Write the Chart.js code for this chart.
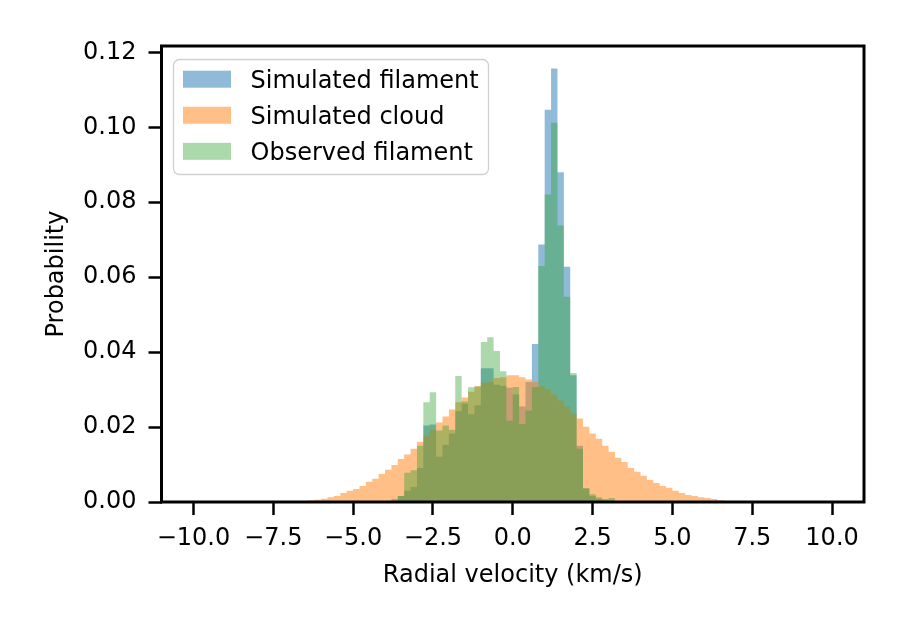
<!DOCTYPE html>
<html>
<head>
<meta charset="utf-8">
<script src="https://cdn.jsdelivr.net/npm/chart.js@4.4.1/dist/chart.umd.min.js"></script>
<style>
  html, body { margin: 0; padding: 0; background: #fff; }
  canvas { display: block; }
</style>
</head>
<body>
<canvas id="hist" width="907" height="633"></canvas>
<script>
// histogram bin edges (bin width 0.2 km/s), one more edge than values
const bin_edges = [
  -6.6, -6.4, -6.2, -6.0, -5.8, -5.6, -5.4, -5.2, -5.0, -4.8,
  -4.6, -4.4, -4.2, -4.0, -3.8, -3.6, -3.4, -3.2, -3.0, -2.8,
  -2.6, -2.4, -2.2, -2.0, -1.8, -1.6, -1.4, -1.2, -1.0, -0.8,
  -0.6, -0.4, -0.2, 0.0, 0.2, 0.4, 0.6, 0.8, 1.0, 1.2,
  1.4, 1.6, 1.8, 2.0, 2.2, 2.4, 2.6, 2.8, 3.0, 3.2,
  3.4, 3.6, 3.8, 4.0, 4.2, 4.4, 4.6, 4.8, 5.0, 5.2,
  5.4, 5.6, 5.8, 6.0, 6.2, 6.4, 6.6, 6.8, 7.0
];

const sim_filament = [
  0, 0, 0, 0, 0, 0, 0, 0, 0, 0,
  0, 0, 0, 0.0003, 0.0008, 0.0016, 0.0030, 0.0040, 0.0091, 0.0204,
  0.0207, 0.0121, 0.0153, 0.0183, 0.0242, 0.0262, 0.0234, 0.0258, 0.0357, 0.0357,
  0.0313, 0.0310, 0.0305, 0.0287, 0.0255, 0.0320, 0.0422, 0.0687, 0.1047, 0.1157,
  0.0880, 0.0628, 0.0338, 0.0150, 0.0037, 0.0016, 0.0008, 0.0005, 0, 0,
  0, 0, 0, 0, 0, 0, 0, 0, 0, 0,
  0, 0, 0, 0, 0, 0, 0, 0
];

const sim_cloud = [
  0.0003, 0.0005, 0.0006, 0.0009, 0.0013, 0.0016, 0.0024, 0.0030, 0.0035, 0.0043,
  0.0054, 0.0062, 0.0075, 0.0086, 0.0099, 0.0115, 0.0127, 0.0142, 0.0161, 0.0177,
  0.0193, 0.0212, 0.0228, 0.0247, 0.0266, 0.0279, 0.0294, 0.0309, 0.0318, 0.0320,
  0.0331, 0.0333, 0.0338, 0.0338, 0.0333, 0.0327, 0.0320, 0.0309, 0.0301, 0.0287,
  0.0271, 0.0255, 0.0236, 0.0223, 0.0201, 0.0183, 0.0169, 0.0150, 0.0134, 0.0118,
  0.0107, 0.0091, 0.0081, 0.0070, 0.0059, 0.0051, 0.0043, 0.0038, 0.0030, 0.0024,
  0.0019, 0.0016, 0.0013, 0.0011, 0.0008, 0.0005, 0.0003, 0.0003
];

const obs_filament = [
  0, 0, 0, 0, 0, 0, 0, 0, 0, 0,
  0, 0, 0, 0, 0.0003, 0.0016, 0.0078, 0.0085, 0.0150, 0.0266,
  0.0293, 0.0191, 0.0204, 0.0193, 0.0336, 0.0268, 0.0306, 0.0308, 0.0427, 0.0440,
  0.0403, 0.0349, 0.0217, 0.0307, 0.0208, 0.0244, 0.0307, 0.0630, 0.0821, 0.1012,
  0.0738, 0.0548, 0.0344, 0.0142, 0.0036, 0.0021, 0.0013, 0.0008, 0.0011, 0,
  0, 0, 0, 0, 0, 0, 0, 0, 0, 0,
  0, 0, 0, 0, 0, 0, 0, 0
];

const x_ticks = [-10, -7.5, -5, -2.5, 0, 2.5, 5, 7.5, 10];
const y_ticks = [0, 0.02, 0.04, 0.06, 0.08, 0.10, 0.12];

// value of bin i holds from edge i to edge i+1 (stepped 'before')
const to_steps = function (vals) {
    return bin_edges.map((x, i) => ({x: x, y: i < vals.length ? vals[i] : 0}));
};

const rounded_box = function (ctx, x, y, w, h, r) {
    ctx.beginPath();
    ctx.moveTo(x + r, y);
    ctx.lineTo(x + w - r, y);
    ctx.arcTo(x + w, y, x + w, y + r, r);
    ctx.lineTo(x + w, y + h - r);
    ctx.arcTo(x + w, y + h, x + w - r, y + h, r);
    ctx.lineTo(x + r, y + h);
    ctx.arcTo(x, y + h, x, y + h - r, r);
    ctx.lineTo(x, y + r);
    ctx.arcTo(x, y, x + r, y, r);
    ctx.closePath();
};

// frame on all four sides + legend box in the upper left
const frame_legend = {
    id: 'frame_legend',
    afterDraw(chart) {
        const ctx = chart.ctx;
        const a = chart.chartArea;
        ctx.save();
        ctx.strokeStyle = '#000';
        ctx.lineWidth = 3;
        ctx.strokeRect(a.left, a.top, a.right - a.left, a.bottom - a.top);

        rounded_box(ctx, 173.5, 59.5, 315, 115, 6);
        ctx.fillStyle = 'rgba(255,255,255,0.8)';
        ctx.fill();
        ctx.strokeStyle = '#d0d0d0';
        ctx.lineWidth = 1.3;
        ctx.stroke();

        ctx.font = '24px "DejaVu Sans"';
        ctx.textBaseline = 'alphabetic';
        ctx.textAlign = 'left';
        chart.data.datasets.forEach((ds, i) => {
            const cy = 79.2 + i * 36.05;
            ctx.fillStyle = ds.backgroundColor;
            ctx.fillRect(183, cy - 8.5, 48, 17);
            ctx.fillStyle = '#000';
            ctx.fillText(ds.label, 250.5, cy + 8.6);
        });
        ctx.restore();
    }
};

Chart.defaults.font.family = '"DejaVu Sans"';
Chart.defaults.color = '#000';

const step_common = {
    stepped: 'before',
    fill: 'origin',
    borderWidth: 0,
    borderColor: 'rgba(0,0,0,0)',
    pointRadius: 0,
    pointHoverRadius: 0,
    tension: 0
};

new Chart(document.getElementById('hist').getContext('2d'), {
    type: 'line',
    data: {
        datasets: [
            Object.assign({
                label: 'Simulated filament',
                data: to_steps(sim_filament),
                backgroundColor: 'rgba(31,119,180,0.5)',
                order: 3
            }, step_common),
            Object.assign({
                label: 'Simulated cloud',
                data: to_steps(sim_cloud),
                backgroundColor: 'rgba(255,127,14,0.5)',
                order: 2
            }, step_common),
            Object.assign({
                label: 'Observed filament',
                data: to_steps(obs_filament),
                backgroundColor: 'rgba(44,160,44,0.4)',
                order: 1
            }, step_common)
        ]
    },
    options: {
        responsive: false,
        animation: false,
        devicePixelRatio: 1,
        layout: {padding: {top: 46, right: 43, left: 0, bottom: 0}},
        plugins: {
            legend: {display: false},
            tooltip: {enabled: false}
        },
        scales: {
            x: {
                type: 'linear',
                min: -11,
                max: 11,
                offset: false,
                afterBuildTicks: (scale) => {
                    scale.ticks = x_ticks.map(v => ({value: v}));
                },
                afterFit: (scale) => { scale.height = 131; },
                grid: {
                    offset: false,
                    drawOnChartArea: false,
                    drawTicks: true,
                    tickLength: 13,
                    tickWidth: 2.5,
                    tickColor: '#000'
                },
                border: {display: false},
                ticks: {
                    autoSkip: false,
                    maxRotation: 0,
                    padding: 9,
                    font: {size: 24},
                    callback: (v) => v.toFixed(1).replace('-', '\u2212')
                },
                title: {
                    display: true,
                    text: 'Radial velocity (km/s)',
                    font: {size: 24},
                    padding: {top: 0, bottom: 43}
                }
            },
            y: {
                min: 0,
                max: 0.1217,
                afterBuildTicks: (scale) => {
                    scale.ticks = y_ticks.map(v => ({value: v}));
                },
                afterFit: (scale) => { scale.width = 161.5; },
                grid: {
                    drawOnChartArea: false,
                    drawTicks: true,
                    tickLength: 13,
                    tickWidth: 2.5,
                    tickColor: '#000'
                },
                border: {display: false},
                ticks: {
                    padding: 12,
                    font: {size: 24},
                    callback: (v) => v.toFixed(2)
                },
                title: {
                    display: true,
                    text: 'Probability',
                    font: {size: 24},
                    padding: {top: 42, bottom: 0}
                }
            }
        }
    },
    plugins: [frame_legend]
});
</script>
</body>
</html>
